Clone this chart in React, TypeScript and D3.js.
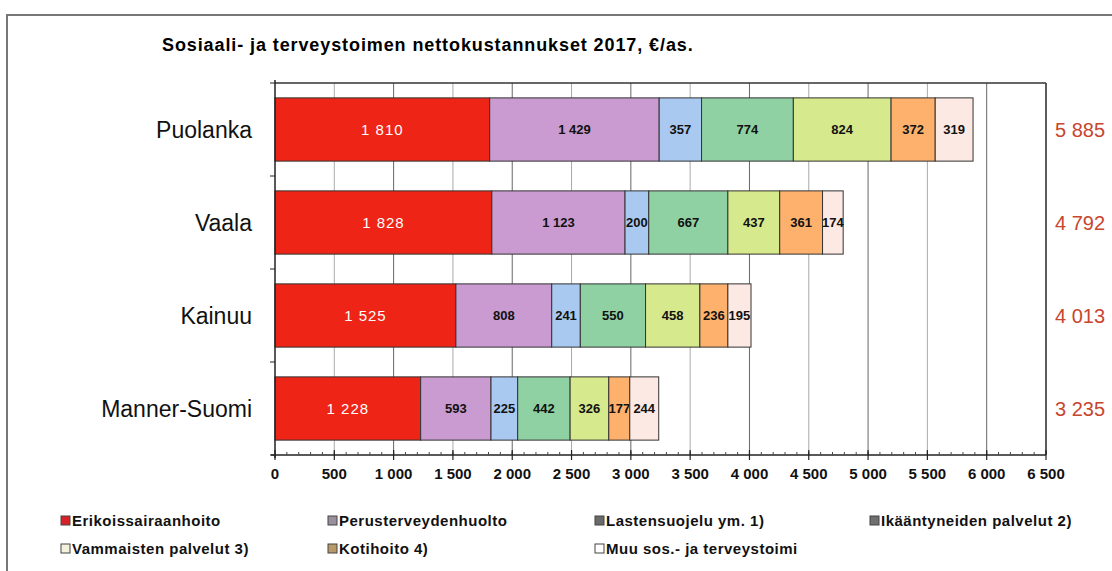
import React from "react";
import * as d3 from "d3";

const title = "Sosiaali- ja terveystoimen nettokustannukset 2017, €/as.";
const categories = ["Puolanka", "Vaala", "Kainuu", "Manner-Suomi"];
const seriesNames = [
  "Erikoissairaanhoito",
  "Perusterveydenhuolto",
  "Lastensuojelu ym. 1)",
  "Ikääntyneiden palvelut 2)",
  "Vammaisten palvelut 3)",
  "Kotihoito 4)",
  "Muu sos.- ja terveystoimi",
];
const erikois = [1810, 1828, 1525, 1228];
const peruster = [1429, 1123, 808, 593];
const lastensuojelu = [357, 200, 241, 225];
const ikaantyneet = [774, 667, 550, 442];
const vammaiset = [824, 437, 458, 326];
const kotihoito = [372, 361, 236, 177];
const muu = [319, 174, 195, 244];
const totals = [5885, 4792, 4013, 3235];
const xTicks = [0, 500, 1000, 1500, 2000, 2500, 3000, 3500, 4000, 4500, 5000, 5500, 6000, 6500];

const colors = ["#ee2416", "#c99bd0", "#a9c9f0", "#8fd1a3", "#d6e98c", "#fdb16c", "#fde9e3"];
const legendColors = ["#d8202a", "#9a8f9c", "#6a6a6a", "#6f6f6f", "#f4f2dc", "#b89a6a", "#ffffff"];

const fmt = (v: number) => d3.format(",")(v).replace(/,/g, " ");

export default function App() {
  const W = 1112, H = 571;
  const x0 = 275, x1 = 1046, yTop = 83, yBot = 455;
  const series = [erikois, peruster, lastensuojelu, ikaantyneet, vammaiset, kotihoito, muu];
  const x = d3.scaleLinear().domain([0, 6500]).range([x0, x1]);
  const y = d3.scaleBand().domain(categories).range([yTop, yBot]).paddingInner(0.32).paddingOuter(0.16);
  const rows = categories.map((c, i) => {
    const o: any = { cat: c };
    seriesNames.forEach((s, j) => (o[s] = series[j][i]));
    return o;
  });
  const stacked = d3.stack().keys(seriesNames)(rows);
  const minor = d3.range(0, 6501, 100);
  const font = "Arial, 'Liberation Sans', Helvetica, sans-serif";
  const legendPos = [
    [67, 521], [334, 521], [601, 521], [876, 521],
    [67, 549], [334, 549], [601, 549],
  ];
  return (
    <svg width={W} height={H} style={{ position: "absolute", left: 0, top: 0, background: "#fff" }} fontFamily={font}>
      <path d={`M7,${H} L7,15 L${W},15`} fill="none" stroke="#777" strokeWidth={2} />
      <text x={162} y={51} fontSize={18} fontWeight="bold" fill="#000" letterSpacing={0.9}>{title}</text>
      {/* gridlines */}
      {xTicks.slice(1).map((t) => (
        <line key={t} x1={x(t)} x2={x(t)} y1={yTop} y2={yBot} stroke={t % 1000 === 0 ? "#666" : "#aaa"} strokeWidth={1} />
      ))}
      <line x1={x0} x2={x1} y1={yTop} y2={yTop} stroke="#333" strokeWidth={1.5} />
      <line x1={x1} x2={x1} y1={yTop} y2={yBot} stroke="#333" strokeWidth={1.5} />
      {/* bars */}
      {stacked.map((layer, j) =>
        layer.map((d, i) => {
          const bx = x(d[0]);
          const bw = x(d[1]) - x(d[0]);
          const by = y(categories[i])!;
          const bh = y.bandwidth();
          const v = d[1] - d[0];
          return (
            <g key={`${j}-${i}`}>
              <rect x={bx} y={by} width={bw} height={bh} fill={colors[j]} stroke="#333" strokeWidth={1} />
              <text
                x={bx + bw / 2}
                y={by + bh / 2}
                dy="0.35em"
                textAnchor="middle"
                fontSize={j === 0 ? 15 : 13}
                fontWeight={j === 0 ? "normal" : "bold"}
                fill={j === 0 ? "#fff" : "#111"}
                letterSpacing={j === 0 ? 1 : 0}
              >
                {fmt(v)}
              </text>
            </g>
          );
        })
      )}
      {/* y axis */}
      <line x1={x0} x2={x0} y1={yTop - 3} y2={yBot + 3} stroke="#222" strokeWidth={1.5} />
      {d3.range(categories.length + 1).map((k) => {
        const yy = yTop + ((yBot - yTop) / categories.length) * k;
        return <line key={k} x1={x0 - 5} x2={x0} y1={yy} y2={yy} stroke="#222" />;
      })}
      {categories.map((c) => (
        <text key={c} x={252} y={y(c)! + y.bandwidth() / 2} dy="0.35em" textAnchor="end" fontSize={23} fill="#111">
          {c}
        </text>
      ))}
      {/* x axis */}
      <line x1={x0 - 4} x2={x1} y1={yBot} y2={yBot} stroke="#222" strokeWidth={1.5} />
      {minor.map((t) => (
        <line key={t} x1={x(t)} x2={x(t)} y1={yBot - 3} y2={yBot} stroke="#444" strokeWidth={1} />
      ))}
      {xTicks.map((t) => (
        <g key={t}>
          <line x1={x(t)} x2={x(t)} y1={yBot - 5} y2={yBot + 5} stroke="#222" strokeWidth={1.2} />
          <text x={x(t)} y={474} dy="0.35em" textAnchor="middle" fontSize={15} fontWeight="bold" fill="#111">
            {fmt(t)}
          </text>
        </g>
      ))}
      {/* totals */}
      {categories.map((c, i) => (
        <text key={c} x={1080} y={y(c)! + y.bandwidth() / 2} dy="0.35em" textAnchor="middle" fontSize={20} fill="#c8452e">
          {fmt(totals[i])}
        </text>
      ))}
      {/* legend */}
      {seriesNames.map((s, j) => (
        <g key={s} transform={`translate(${legendPos[j][0]},${legendPos[j][1]})`}>
          <rect x={-6} y={-5} width={9} height={9} fill={legendColors[j]} stroke="#444" strokeWidth={1} />
          <text x={5} y={0} dy="0.35em" fontSize={15} fontWeight="bold" fill="#111" letterSpacing={0.5}>{s}</text>
        </g>
      ))}
    </svg>
  );
}
